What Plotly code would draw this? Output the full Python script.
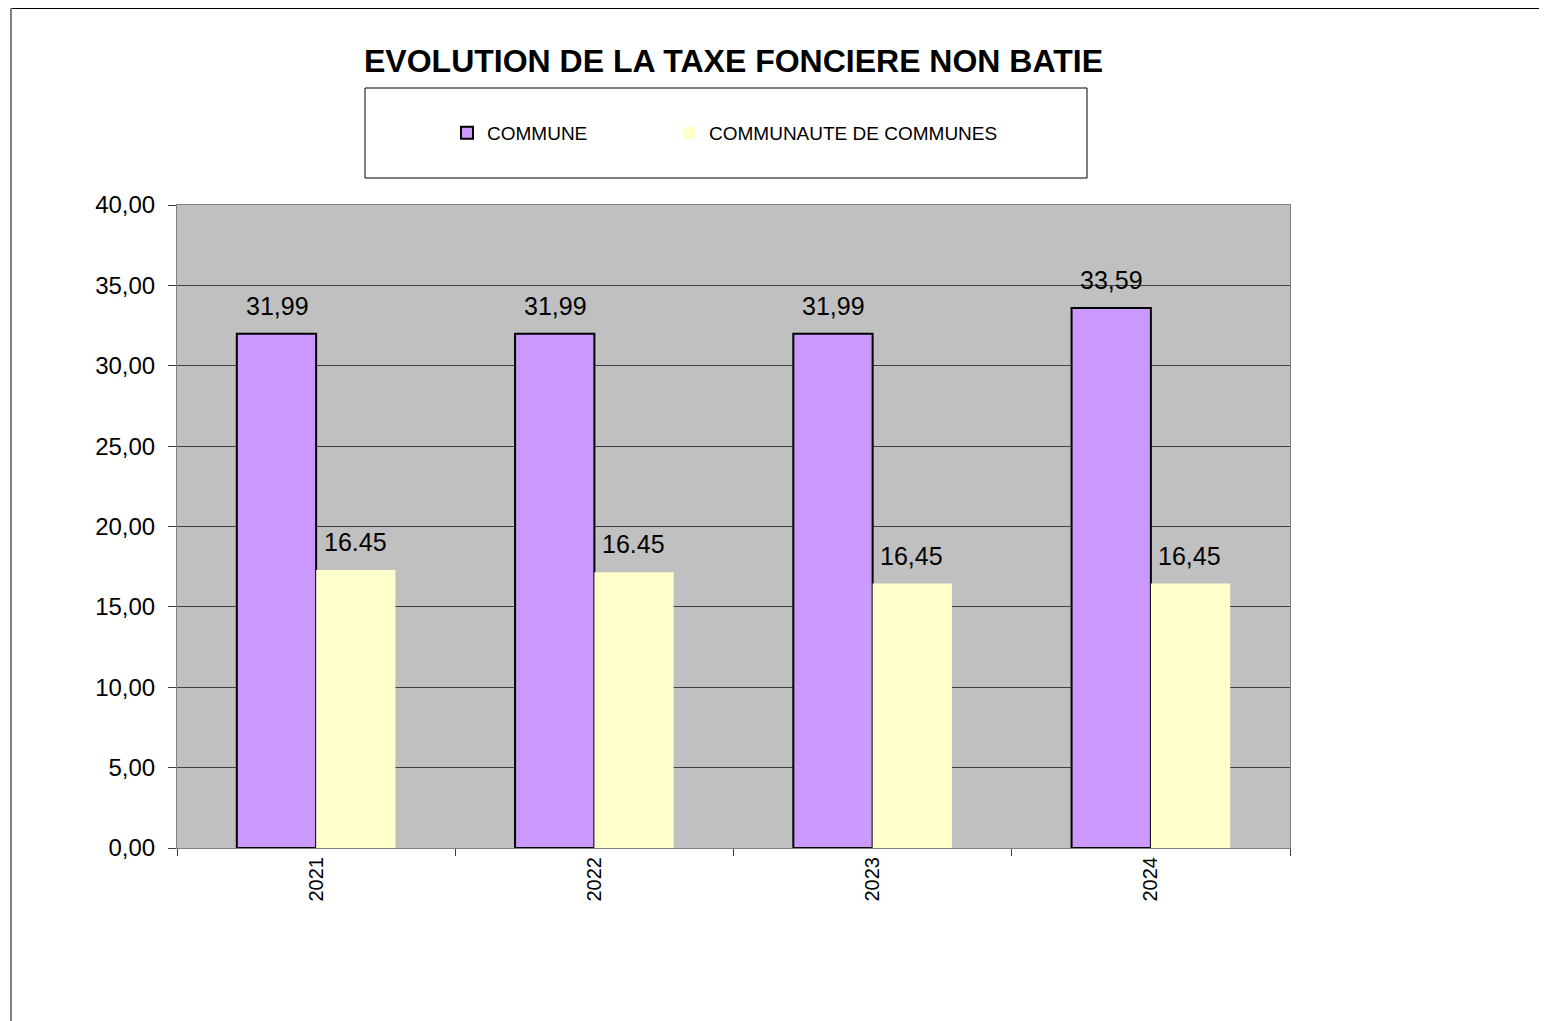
import plotly.graph_objects as go

years = ["2021", "2022", "2023", "2024"]
commune = [31.99, 31.99, 31.99, 33.59]
commune_labels = ["31,99", "31,99", "31,99", "33,59"]
cc = [17.3, 17.15, 16.45, 16.45]
cc_labels = ["16.45", "16.45", "16,45", "16,45"]
y_ticks = [0, 5, 10, 15, 20, 25, 30, 35, 40]

OFF = 8  # page body margin
W, H = 1547, 1021
L, R, T, B = 177, 1290, 205, 848

def px(x):
    return (x - L) / (R - L)

def py(y):
    return (B - y) / (B - T)

fig = go.Figure()
fig.add_trace(go.Bar(
    x=years, y=commune, name="COMMUNE", legend="legend",
    marker=dict(color="#CC99FF", line=dict(color="black", width=2)),
))
fig.add_trace(go.Bar(
    x=years, y=cc, name="COMMUNAUTE DE COMMUNES", legend="legend2",
    marker=dict(color="#FFFFCC", line=dict(color="#FFFFCC", width=0)),
))

annots = []
for i in range(len(years)):
    annots.append(dict(x=i, y=commune[i], xref="x", yref="y", text=commune_labels[i],
                       showarrow=False, xshift=-39, yshift=12, yanchor="bottom",
                       font=dict(size=25, color="black", family="Arial")))
    annots.append(dict(x=i, y=cc[i], xref="x", yref="y", text=cc_labels[i],
                       showarrow=False, xshift=39, yshift=12, yanchor="bottom",
                       font=dict(size=25, color="black", family="Arial")))
annots.append(dict(x=px(733), y=py(61), xref="paper", yref="paper",
                   text="<b>EVOLUTION DE LA TAXE FONCIERE NON BATIE</b>", showarrow=False,
                   xanchor="center", yanchor="middle",
                   font=dict(size=32, color="black", family="Arial")))

shapes = [
    dict(type="rect", xref="paper", yref="paper", x0=px(365), x1=px(1087), y0=py(88), y1=py(178),
         line=dict(color="black", width=1), fillcolor="white", layer="below"),
    dict(type="line", xref="paper", yref="paper", x0=px(10), x1=px(1547), y0=py(8), y1=py(8),
         line=dict(color="black", width=2)),
    dict(type="line", xref="paper", yref="paper", x0=px(11), x1=px(11), y0=py(8), y1=py(1021),
         line=dict(color="#808080", width=2)),
]

leg_common = dict(orientation="h", y=py(133), xanchor="left", yanchor="middle",
                  bgcolor="rgba(0,0,0,0)", borderwidth=0,
                  font=dict(size=19, family="Arial", color="black"))

fig.update_layout(
    width=W - OFF, height=H - OFF,
    margin=dict(l=L - OFF, r=W - R, t=T - OFF, b=H - B, autoexpand=False),
    paper_bgcolor="white", plot_bgcolor="#C0C0C0",
    barmode="group", bargap=0.43, bargroupgap=0,
    separators=", ",
    font=dict(family="Arial", color="black"),
    showlegend=True,
    legend=dict(x=px(447), **leg_common),
    legend2=dict(x=px(669), **leg_common),
    annotations=annots,
    shapes=shapes,
)
fig.update_yaxes(range=[0, 40], tickvals=y_ticks, tickformat=".2f",
                 showgrid=True, gridcolor="#404040", gridwidth=1,
                 ticks="outside", ticklen=8, tickcolor="#404040",
                 ticklabelstandoff=8,
                 tickfont=dict(size=24, family="Arial"),
                 showline=True, linecolor="#808080", linewidth=1, mirror=True,
                 zeroline=False)
fig.update_xaxes(type="category", range=[-0.5, len(years) - 0.5],
                 tickangle=-90, tickson="boundaries", ticks="outside", ticklen=7,
                 tickcolor="#404040", tickfont=dict(size=20, family="Arial"),
                 showline=True, linecolor="#808080", linewidth=1, mirror=True)

fig.write_html("out.html")
